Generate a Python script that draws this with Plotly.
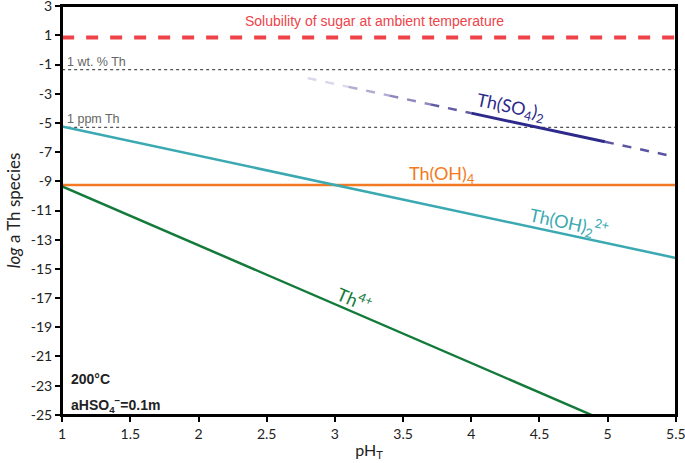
import plotly.graph_objects as go

# Data
ph_range = [1, 5.5]
sugar_log = [0.85, 0.85]
wt1_log = [-1.35, -1.35]
ppm1_log = [-5.3, -5.3]
thoh4_ph = [1, 5.5]
thoh4_log = [-9.25, -9.25]
thoh2_ph = [1, 5.5]
thoh2_log = [-5.25, -14.25]
th4_ph = [1, 4.88]
th4_log = [-9.35, -25.0]
# Th(SO4)2: faded dashed start, solid middle, dashed end
so4_fade_ph = [2.8, 3.1, 3.4, 3.7, 4.0]
so4_fade_log = [-1.93, -2.53, -3.13, -3.73, -4.33]
so4_solid_ph = [4.0, 4.98]
so4_solid_log = [-4.33, -6.29]
so4_end_ph = [4.98, 5.5]
so4_end_log = [-6.29, -7.33]

x_ticks = [1, 1.5, 2, 2.5, 3, 3.5, 4, 4.5, 5, 5.5]
y_ticks = list(range(-25, 4, 2))

fig = go.Figure()

def line(x, y, color, width, dash="solid"):
    fig.add_trace(go.Scatter(x=x, y=y, mode="lines", showlegend=False, hoverinfo="skip",
                             line=dict(color=color, width=width, dash=dash)))

line(ph_range, sugar_log, "#ee4349", 4, "dash")
line(ph_range, wt1_log, "#555555", 1.3, "dot")
line(ph_range, ppm1_log, "#555555", 1.3, "dot")
line(thoh4_ph, thoh4_log, "#f37a22", 2.5)
line(thoh2_ph, thoh2_log, "#3aa9b1", 2.5)
line(th4_ph, th4_log, "#137a3a", 2.5)
fade_cols = ["rgba(110,100,170,0.25)", "rgba(100,90,165,0.5)", "rgba(95,85,160,0.7)", "rgba(80,72,155,0.9)"]
for i in range(len(so4_fade_ph) - 1):
    line(so4_fade_ph[i:i + 2], so4_fade_log[i:i + 2], fade_cols[i], 2.5, "dash")
line(so4_solid_ph, so4_solid_log, "#2e2a8c", 3)
line(so4_end_ph, so4_end_log, "#5b54a2", 2.5, "dash")

ann = []
def label(x, y, text, color, size, angle=0, font="Lato", xanchor="center", bold=False):
    if bold:
        text = "<b>" + text + "</b>"
    ann.append(dict(x=x, y=y, xref="x", yref="y", text=text, showarrow=False, textangle=angle,
                    xanchor=xanchor, font=dict(color=color, size=size, family=font)))

label(3.29, 1.95, "Solubility of sugar at ambient temperature", "#ee4349", 14, font="Liberation Sans")
label(1.02, -0.82, "1 wt. % Th", "#666666", 12.5, font="Liberation Sans", xanchor="left")
label(1.02, -4.75, "1 ppm Th", "#666666", 12.5, font="Liberation Sans", xanchor="left")
label(4.29, -3.95, "Th(SO<sub>4</sub>)<sub>2</sub>", "#2e2a8c", 18, angle=12)
label(3.78, -8.55, "Th(OH)<sub>4</sub>", "#f37a22", 18)
label(4.72, -11.85, "Th(OH)<sub>2</sub><sup>2+</sup>", "#3aa9b1", 18, angle=12)
label(3.14, -17.05, "Th<sup>4+</sup>", "#137a3a", 18, angle=23)
label(1.05, -22.55, "200°C", "#222222", 14, font="Liberation Sans", xanchor="left", bold=True)
label(1.05, -24.3, "aHSO<sub>4</sub><sup>−</sup>=0.1m", "#222222", 14, font="Liberation Sans", xanchor="left", bold=True)

fig.update_layout(
    width=685, height=463,
    margin=dict(l=62, r=9, t=6, b=48),
    paper_bgcolor="white", plot_bgcolor="white",
    annotations=ann,
    font=dict(family="Lato", color="#222222"),
    shapes=[dict(type="rect", xref="paper", yref="paper", x0=0, y0=0, x1=1, y1=1,
                 line=dict(color="black", width=2), layer="above")],
)
fig.update_xaxes(range=[0.999, 5.501], tickvals=x_ticks, ticktext=[str(v) for v in x_ticks],
                 showgrid=False, zeroline=False, showline=True, linecolor="black", linewidth=2,
                 mirror=True, ticks="outside", ticklen=5, tickwidth=2, tickcolor="black",
                 ticklabeloverflow="allow", automargin=False,
                 tickfont=dict(size=14, family="Lato"),
                 title=dict(text="pH<sub>T</sub>", font=dict(size=16, family="Lato"), standoff=4))
fig.update_yaxes(range=[-25.01, 3.01], tickvals=y_ticks, ticktext=[str(v) for v in y_ticks],
                 showgrid=False, zeroline=False, showline=True, linecolor="black", linewidth=2,
                 mirror=True, ticks="outside", ticklen=5, tickwidth=2, tickcolor="black",
                 ticklabeloverflow="allow", automargin=False,
                 tickfont=dict(size=14, family="Lato"),
                 title=dict(text="<i>log</i> a Th species", font=dict(size=17, family="Lato"), standoff=6))

fig.write_html("out.html", config={"displayModeBar": False},
               post_script="document.body.style.margin='0';document.body.style.overflow='hidden';")
